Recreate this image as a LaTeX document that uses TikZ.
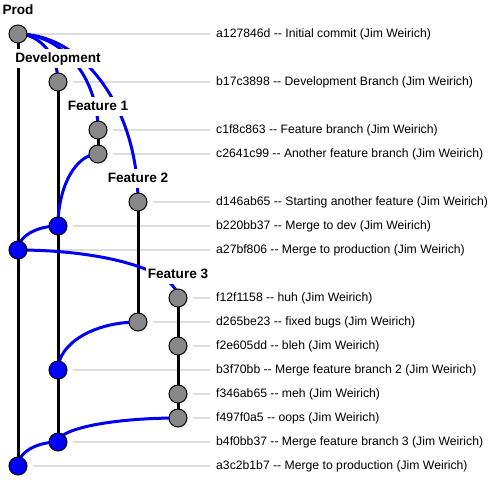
\documentclass[tikz,border=0pt]{standalone}
\usepackage{fontspec}
\setmainfont{Liberation Sans}
\usetikzlibrary{calc,backgrounds}
\definecolor{cgrey}{RGB}{136,136,136}
\definecolor{guidegrey}{RGB}{221,221,221}
\definecolor{mblue}{RGB}{0,0,245}
\newcommand\mergearc[2]{%
  \coordinate (tmpcorner) at (#1.center -| #2.center);
  \draw[mergeline] (#1.center) .. controls ($(#1.center)!0.55!(tmpcorner)$) and ($(#2.center)!0.55!(tmpcorner)$) .. (#2.center);}
\tikzset{
  commit/.style={circle, draw=black, line width=1pt, minimum size=18pt, inner sep=0pt, fill=cgrey},
  merged/.style={commit, fill=blue},
  branchline/.style={black, line width=3pt},
  mergeline/.style={mblue, line width=3pt},
  guide/.style={guidegrey, line width=2pt},
  msg/.style={anchor=west, inner sep=0pt, font=\fontsize{12.2}{14}\selectfont},
  blabel/.style={fill=white, anchor=base, inner xsep=2pt, inner ysep=4.5pt, text height=9.6pt, text depth=1pt, font=\bfseries\fontsize{13.6}{15}\selectfont},
}
\begin{document}
\begin{tikzpicture}[x=1pt,y=-1pt]
\useasboundingbox (0,0) rectangle (502,493);
% commits
\node[commit] (a1) at (18,34) {};
\node[commit] (b1) at (58,82) {};
\node[commit] (c1) at (98,130) {};
\node[commit] (c2) at (98,154) {};
\node[commit] (d1) at (138,202) {};
\node[merged] (b2) at (58,226) {};
\node[merged] (a2) at (18,250) {};
\node[commit] (f1) at (178,298) {};
\node[commit] (d2) at (138,322) {};
\node[commit] (f2) at (178,346) {};
\node[merged] (b3) at (58,370) {};
\node[commit] (f3) at (178,394) {};
\node[commit] (f4) at (178,418) {};
\node[merged] (b4) at (58,442) {};
\node[merged] (a3) at (18,466) {};
% messages
\node[msg] (ma1) at (216,34) {a127846d -{}- Initial commit (Jim Weirich)};
\node[msg] (mb1) at (216,82) {b17c3898 -{}- Development Branch (Jim Weirich)};
\node[msg] (mc1) at (216,130) {c1f8c863 -{}- Feature branch (Jim Weirich)};
\node[msg] (mc2) at (216,154) {c2641c99 -{}- Another feature branch (Jim Weirich)};
\node[msg] (md1) at (216,202) {d146ab65 -{}- Starting another feature (Jim Weirich)};
\node[msg] (mb2) at (216,226) {b220bb37 -{}- Merge to dev (Jim Weirich)};
\node[msg] (ma2) at (216,250) {a27bf806 -{}- Merge to production (Jim Weirich)};
\node[msg] (mf1) at (216,298) {f12f1158 -{}- huh (Jim Weirich)};
\node[msg] (md2) at (216,322) {d265be23 -{}- fixed bugs (Jim Weirich)};
\node[msg] (mf2) at (216,346) {f2e605dd -{}- bleh (Jim Weirich)};
\node[msg] (mb3) at (216,370) {b3f70bb -{}- Merge feature branch 2 (Jim Weirich)};
\node[msg] (mf3) at (216,394) {f346ab65 -{}- meh (Jim Weirich)};
\node[msg] (mf4) at (216,418) {f497f0a5 -{}- oops (Jim Weirich)};
\node[msg] (mb4) at (216,442) {b4f0bb37 -{}- Merge feature branch 3 (Jim Weirich)};
\node[msg] (ma3) at (216,466) {a3c2b1b7 -{}- Merge to production (Jim Weirich)};
% branch labels
\node[blabel] (lprod) at (18,14.8) {Prod};
\node[blabel] (ldev) at (58,62.8) {Development};
\node[blabel] (lf1) at (98,110.8) {Feature 1};
\node[blabel] (lf2) at (138,182.8) {Feature 2};
\node[blabel] (lf3) at (178,278.8) {Feature 3};
\begin{pgfonlayer}{background}
% guide lines
\foreach \n in {a1,b1,c1,c2,d1,b2,a2,f1,d2,f2,b3,f3,f4,b4,a3}{
  \draw[guide] ([xshift=5.5pt]\n.east) -- ([xshift=-6pt]m\n.west);
}
% branch lines
\draw[branchline] (a1.center) -- (a2.center) -- (a3.center);
\draw[branchline] (b1.center) -- (b2.center) -- (b3.center) -- (b4.center);
\draw[branchline] (c1.center) -- (c2.center);
\draw[branchline] (d1.center) -- (d2.center);
\draw[branchline] (f1.center) -- (f2.center) -- (f3.center) -- (f4.center);
% merge / branch curves
\mergearc{a1}{b1}
\mergearc{a1}{c1}
\mergearc{a1}{d1}
\mergearc{c2}{b2}
\mergearc{b2}{a2}
\mergearc{a2}{f1}
\mergearc{d2}{b3}
\mergearc{f4}{b4}
\mergearc{b4}{a3}
\end{pgfonlayer}
\end{tikzpicture}
\end{document}
